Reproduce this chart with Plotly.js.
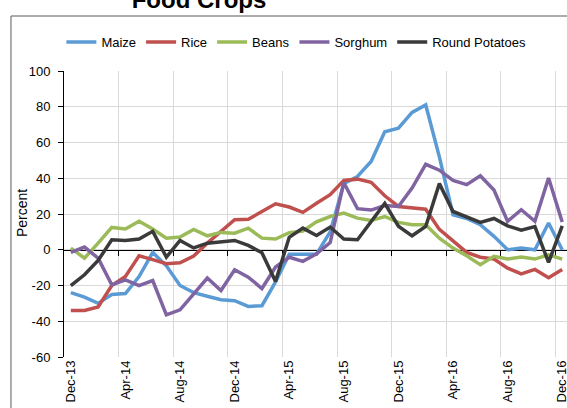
<!DOCTYPE html>
<html><head><meta charset="utf-8">
<script src="https://cdn.plot.ly/plotly-3.0.1.min.js"></script>
<style>html,body{margin:0;padding:0;background:#fff;overflow:hidden}#chart{width:567px;height:408px}</style>
</head><body><div id="chart"></div>
<script>
const months = ["Dec-13","Jan-14","Feb-14","Mar-14","Apr-14","May-14","Jun-14","Jul-14","Aug-14","Sep-14","Oct-14","Nov-14",
"Dec-14","Jan-15","Feb-15","Mar-15","Apr-15","May-15","Jun-15","Jul-15","Aug-15","Sep-15","Oct-15","Nov-15",
"Dec-15","Jan-16","Feb-16","Mar-16","Apr-16","May-16","Jun-16","Jul-16","Aug-16","Sep-16","Oct-16","Nov-16","Dec-16"];
const tickLabels = ["Dec-13","Apr-14","Aug-14","Dec-14","Apr-15","Aug-15","Dec-15","Apr-16","Aug-16","Dec-16"];
const boundaryTicks = [3.5,7.5,11.5,15.5,19.5,23.5,27.5,31.5,35.5];
const yTicks = [-60,-40,-20,0,20,40,60,80,100];
const yTickLabels = ["-60","-40","-20","0","20","40","60","80","100"];

const maize = [-24,-26.5,-30,-25,-24.5,-15,-1.5,-9,-20,-24,-26,-28,-28.5,-31.7,-31.3,-18,-2.5,-2.5,-2.5,10,37,41,49.4,66,68,76.8,81,52,19.6,17.5,14,7.5,0,1,0,15,0];
const rice = [-34,-34,-32,-20,-15,-3.4,-5.5,-7.8,-7.3,-3.5,3.7,10.3,16.8,17,21.4,25.7,23.9,20.9,26,30.8,38.8,39.5,37.7,30.2,24.2,23.3,22.7,11.4,5,-1.5,-4.2,-5.2,-10.3,-13.5,-11,-15.6,-11];
const beans = [0.9,-4.7,3.7,12.5,11.6,15.9,11.6,6.5,7.1,11.4,7.8,9.7,9.3,12.1,6.5,6,9.5,10.5,15.6,18.6,20.5,17.7,16.4,18.6,15.3,14,14,6.5,0.9,-3.4,-8.4,-3.7,-5.2,-4.1,-5.2,-2.8,-5.2];
const sorghum = [-1.5,1.5,-4.7,-19.6,-16.8,-20.1,-17.2,-36.4,-33.6,-25,-15.8,-22.8,-11.2,-15.3,-21.7,-9.7,-4.2,-6.5,-2.3,4,37.5,23,22.2,24.7,24.2,34.5,47.8,44.5,38.8,36.4,41.4,33.4,15.9,22.4,15.9,40.1,15.5];
const potatoes = [-20.1,-14,-6,5.6,5.2,6,10.3,-4.1,5.2,1,3.7,4.4,5.2,2.4,-1.7,-17.7,7,12.1,8,12.7,6,5.6,15.6,25.9,13.2,7.8,13,37,21.4,18.6,15.3,17.5,13.4,11,13,-7.1,13.4];

const seriesNames = ["Maize","Rice","Beans","Sorghum","Round Potatoes"];
const seriesData = [maize, rice, beans, sorghum, potatoes];
const colors = ["#5b9bd5","#c0504d","#9bbb59","#8064a2","#3a3a3a"];

const traces = seriesData.map((d,i)=>({
  type:"scatter", mode:"lines", name:seriesNames[i], x:months, y:d,
  line:{color:colors[i], width:3.5}, xaxis:"x", yaxis:"y"
}));

const xRange = [-0.5, 36.35];
const ff = "Liberation Sans, Arial, sans-serif";
const font = {family:ff, size:13, color:"#000"};

const layout = {
  width:567, height:408,
  margin:{l:64, r:0, t:71, b:51, pad:0},
  paper_bgcolor:"#fff", plot_bgcolor:"#fff",
  font:font,
  title:{text:"<b>Food Crops</b>", font:{family:ff, size:24, color:"#000"},
    x:0.351, xanchor:"center", xref:"container", y:1, yref:"container", yanchor:"middle"},
  showlegend:true,
  legend:{orientation:"h", x:0.462, xanchor:"center", y:1.101, yanchor:"middle",
    font:{family:ff, size:13, color:"#000"}, bgcolor:"rgba(0,0,0,0)",
    itemwidth:30, tracegroupgap:0},
  xaxis:{type:"category", range:xRange, tickmode:"array", tickvals:tickLabels, ticktext:tickLabels,
    tickangle:-90, showgrid:false, zeroline:false, showline:false, ticks:"", fixedrange:true,
    tickfont:font},
  xaxis2:{type:"linear", overlaying:"x", anchor:"free", position:0.375, range:xRange,
    tickmode:"array", tickvals:boundaryTicks, showticklabels:false, ticks:"outside", ticklen:5,
    tickcolor:"#000", showline:true, linecolor:"#000", linewidth:1, showgrid:true,
    gridcolor:"#d9d9d9", gridwidth:1, zeroline:false, layer:"below traces"},
  yaxis:{range:[-60,100], tickmode:"array", tickvals:yTicks, ticktext:yTickLabels,
    showgrid:true, gridcolor:"#d9d9d9", gridwidth:1,
    zeroline:false, showline:true, linecolor:"#000", linewidth:1, ticks:"outside", ticklen:5,
    tickcolor:"#000", tickfont:font, ticklabelstandoff:5},
  annotations:[{text:"Percent", textangle:-90, xref:"paper", yref:"paper",
    x:(22-64)/503, y:(357-213)/286, xanchor:"center", yanchor:"middle", showarrow:false,
    font:{family:ff, size:14, color:"#000"}}],
  shapes:[{type:"rect", xref:"paper", yref:"paper", x0:-0.1054, x1:1.2, y0:-0.5, y1:1.1923,
    line:{color:"#595959", width:1}, fillcolor:"rgba(0,0,0,0)", layer:"below"}]
};

Plotly.newPlot("chart", traces.concat([{type:"scatter", x:[0], y:[0], xaxis:"x2", yaxis:"y", visible:false, showlegend:false, hoverinfo:"skip"}]), layout, {staticPlot:true, displayModeBar:false});
</script></body></html>
